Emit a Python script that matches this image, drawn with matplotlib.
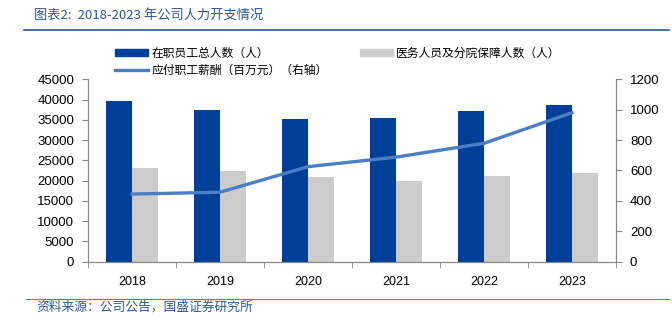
import matplotlib
matplotlib.use("Agg")
import matplotlib.pyplot as plt
from matplotlib.patches import Patch
from matplotlib.lines import Line2D
import numpy as np

# datos
years = ["2018", "2019", "2020", "2021", "2022", "2023"]
staff_total = [39600, 37500, 35300, 35400, 37250, 38550]
medical_staff = [23000, 22300, 20800, 20000, 21100, 21950]
payroll = [445, 457, 625, 688, 779, 980]

blue = "#003F97"
gray = "#CCCCCC"
line_c = "#4A7FC6"
title_c = "#2B579A"

plt.rcParams["font.family"] = ["Liberation Sans", "Noto Sans CJK SC", "DejaVu Sans"]
cjk = ["Noto Sans CJK SC", "DejaVu Sans"]

fig = plt.figure(figsize=(6.72, 3.24), dpi=100)
ax = fig.add_axes([88 / 672, 1 - 261.7 / 324, 528 / 672, 182.4 / 324])
ax2 = ax.twinx()

x = np.arange(len(years))
w = 0.3
ax.bar(x - w / 2, staff_total, w, color=blue, zorder=2)
ax.bar(x + w / 2, medical_staff, w, color=gray, zorder=2)
ax2.plot(x, payroll, color=line_c, lw=2.4, zorder=3)

ax.set_xlim(-0.5, len(years) - 0.5)
ax.set_ylim(0, 45000)
ax.set_yticks(range(0, 45001, 5000))
ax2.set_ylim(0, 1200)
ax2.set_yticks(range(0, 1201, 200))

# ticks del eje x entre categorias
ax.set_xticks(x)
ax.set_xticklabels(years, fontsize=9)
ax.set_xticks(np.arange(-0.5, len(years), 1), minor=True)
ax.tick_params(axis="x", which="major", length=0, pad=10)
ax.tick_params(axis="x", which="minor", length=4, color="#888888")
ax.tick_params(axis="y", labelsize=9.5, length=4, color="#888888", pad=6)
ax2.tick_params(axis="y", labelsize=9.5, length=4, color="#888888", pad=6)

for a in (ax, ax2):
    a.spines["top"].set_visible(False)
    for s in ("left", "right", "bottom"):
        a.spines[s].set_color("#888888")
        a.spines[s].set_linewidth(0.8)
ax2.set_zorder(ax.get_zorder() + 1)
ax2.patch.set_visible(False)

# leyenda
handles = [
    Patch(color=blue),
    Line2D([], [], color=line_c, lw=2.4),
    Patch(color=gray),
]
labels = ["在职员工总人数（人）", "应付职工薪酬（百万元）（右轴）", "医务人员及分院保障人数（人）"]
fig.legend(handles, labels, ncol=2, loc="upper left", bbox_to_anchor=(115 / 672, 1 - 46.5 / 324),
           frameon=False, borderpad=0, borderaxespad=0, handlelength=2.8, handleheight=0.6,
           handletextpad=0.3, columnspacing=2.7, labelspacing=0.35,
           prop={"family": cjk, "size": 8.5})

# titulo, lineas y fuente
fig.text(34 / 672, 1 - 15 / 324, "图表2:  2018-2023 年公司人力开支情况", fontsize=9.5,
         color=title_c, style="italic", va="center", family=cjk)
fig.add_artist(Line2D([24 / 672, 669 / 672], [1 - 29.5 / 324] * 2, color=title_c, lw=1.2))
fig.add_artist(Line2D([26 / 672, 669 / 672], [1 - 298.5 / 324] * 2, color="#4F7FC0", lw=0.8))
fig.text(36 / 672, 1 - 307.5 / 324, "资料来源：公司公告，国盛证券研究所", fontsize=9.2,
         color=title_c, style="italic", va="center", family=cjk)

fig.savefig("out.png", dpi=100)
